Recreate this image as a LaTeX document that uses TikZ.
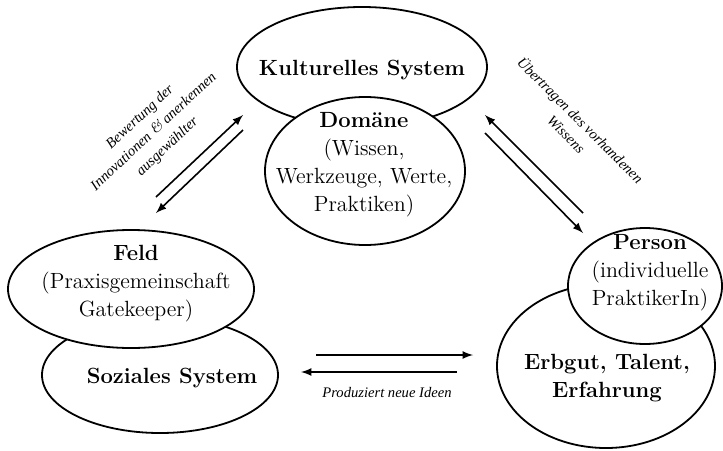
\documentclass[tikz,border=0pt]{standalone}
\usepackage{fontspec}
\newfontfamily\notizfont{Liberation Serif}
\usetikzlibrary{shapes.geometric}
\begin{document}
\begin{tikzpicture}[x=0.5pt,y=-0.5pt,>=latex,
  kreis/.style={ellipse,draw,line width=0.9pt,fill=white,inner sep=0pt},
  titel/.style={align=center,font=\fontsize{11}{14}\selectfont},
  notiz/.style={align=center,font=\notizfont\fontsize{7.3}{10}\selectfont\itshape},
  pfeil/.style={->,line width=0.8pt}]
\useasboundingbox (0,0) rectangle (723,450);
% Kultur oben
\node[kreis,minimum width=125pt,minimum height=60pt] (kultur) at (362,67) {};
\node[kreis,minimum width=100pt,minimum height=74pt] (domaene) at (365,171) {};
\node[titel] (kulturtext) at (kultur.center) [yshift=-1.5pt] {\textbf{Kulturelles System}};
\node[titel] (domtext) at (364,165) {\textbf{Domäne}\\(Wissen,\\Werkzeuge, Werte,\\Praktiken)};
% Sozial links
\node[kreis,minimum width=118pt,minimum height=58pt] (sozial) at (160,375) {};
\node[kreis,minimum width=123pt,minimum height=59pt] (feld) at (131,289) {};
\node[titel] (feldtext) at (136,284) {\textbf{Feld}\\(Praxisgemeinschaft\\Gatekeeper)};
\node[titel] (soztext) at (172,378) {\textbf{Soziales System}};
% Person rechts
\node[kreis,minimum width=109pt,minimum height=82pt] (erbgut) at (606,366) {};
\node[kreis,minimum width=77pt,minimum height=58pt] (person) at (645,286) {};
\node[titel] (perstext) at (650,273) {\textbf{Person}\\(individuelle\\PraktikerIn)};
\node[titel] (erbtext) at (607,378) {\textbf{Erbgut, Talent,}\\\textbf{Erfahrung}};
% Pfeile
\coordinate (fA) at (156,197); \coordinate (kA) at (243,115);
\coordinate (kB) at (243,130); \coordinate (fB) at (156,213);
\coordinate (pA) at (583,213); \coordinate (kC) at (485,115);
\coordinate (kD) at (485,133); \coordinate (pB) at (583,233);
\coordinate (sA) at (316,355); \coordinate (eA) at (473,355);
\coordinate (eB) at (457,372); \coordinate (sB) at (301,372);
\foreach \von/\nach in {fA/kA,kB/fB,pA/kC,kD/pB,sA/eA,eB/sB}
  {\draw[pfeil] (\von) -- (\nach);}
\node[notiz,rotate=43] (links) at (154,132) {Bewertung der\\Innovationen {\normalfont\itshape\&} anerkennen\\ausgewählter};
\node[notiz,rotate=-45] (rechts) at (574,127) {Übertragen des vorhandenen\\Wissens};
\node[notiz] (unten) at (387,393) {Produziert neue Ideen};
\end{tikzpicture}
\end{document}
